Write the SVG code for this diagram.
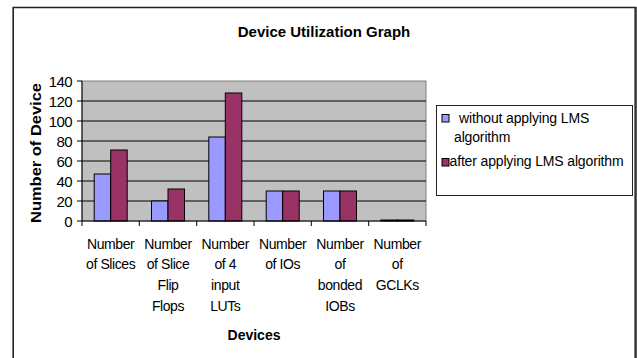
<svg xmlns="http://www.w3.org/2000/svg" width="637" height="358" viewBox="0 0 637 358">
  <style>
    text { font-family: "Liberation Sans", Arial, sans-serif; fill: #000; }
    .title { font-size: 15px; font-weight: bold; text-anchor: middle; }
    .axis-title { font-size: 14px; font-weight: bold; text-anchor: middle; }
    .tick { font-size: 15px; letter-spacing: -0.6px; text-anchor: end; }
    .cat { font-size: 14px; letter-spacing: -0.4px; text-anchor: middle; }
    .leg { font-size: 14px; letter-spacing: -0.15px; }
    .grid { stroke: #000; stroke-width: 1; }
    .axis { stroke: #000; stroke-width: 1; fill: none; }
    .s1 { fill: #9999FF; stroke: #000; stroke-width: 1; }
    .s2 { fill: #993366; stroke: #000; stroke-width: 1; }
  </style>

  <!-- chart frame -->
  <rect x="0" y="0" width="637" height="358" fill="#fff"/>
  <path d="M13.2 360 V7.5 H635.5 V360" fill="none" stroke="#222" stroke-width="1.6"/>
  <line x1="635.6" y1="7" x2="635.6" y2="360" stroke="#333" stroke-width="2.2"/>

  <text class="title" x="324" y="37">Device Utilization Graph</text>

  <!-- plot area: 0 at y=221, 1px per unit -->
  <g id="plot-area">
    <rect x="82" y="81" width="344" height="140" fill="#C0C0C0" stroke="#808080" stroke-width="1"/>
    <g class="grid">
      <line x1="82" y1="101" x2="426" y2="101"/>
      <line x1="82" y1="121" x2="426" y2="121"/>
      <line x1="82" y1="141" x2="426" y2="141"/>
      <line x1="82" y1="161" x2="426" y2="161"/>
      <line x1="82" y1="181" x2="426" y2="181"/>
      <line x1="82" y1="201" x2="426" y2="201"/>
    </g>
  </g>

  <!-- bars -->
  <g id="series-without">
    <rect class="s1" x="94.2" y="174" width="16.5" height="47"/>
    <rect class="s1" x="151.5" y="201" width="16.5" height="20"/>
    <rect class="s1" x="208.8" y="137" width="16.5" height="84"/>
    <rect class="s1" x="266.2" y="191" width="16.5" height="30"/>
    <rect class="s1" x="323.5" y="191" width="16.5" height="30"/>
    <rect class="s1" x="380.8" y="220" width="16.5" height="1"/>
  </g>
  <g id="series-after">
    <rect class="s2" x="110.7" y="150" width="16.5" height="71"/>
    <rect class="s2" x="168" y="189" width="16.5" height="32"/>
    <rect class="s2" x="225.3" y="93" width="16.5" height="128"/>
    <rect class="s2" x="282.7" y="191" width="16.5" height="30"/>
    <rect class="s2" x="340" y="191" width="16.5" height="30"/>
    <rect class="s2" x="397.3" y="220" width="16.5" height="1"/>
  </g>

  <!-- axes -->
  <g id="axes">
    <path class="axis" d="M82 81 V221 H426"/>
    <path class="axis" d="M77 81 H82 M77 101 H82 M77 121 H82 M77 141 H82 M77 161 H82 M77 181 H82 M77 201 H82 M77 221 H82"/>
    <path class="axis" d="M82 221 V226 M139.3 221 V226 M196.7 221 V226 M254 221 V226 M311.3 221 V226 M368.7 221 V226 M426 221 V226"/>
  </g>

  <!-- value axis labels -->
  <g id="y-labels">
    <text class="tick" x="72" y="86.5">140</text>
    <text class="tick" x="72" y="106.5">120</text>
    <text class="tick" x="72" y="126.5">100</text>
    <text class="tick" x="72" y="146.5">80</text>
    <text class="tick" x="72" y="166.5">60</text>
    <text class="tick" x="72" y="186.5">40</text>
    <text class="tick" x="72" y="206.5">20</text>
    <text class="tick" x="72" y="226.5">0</text>
  </g>
  <text class="axis-title" transform="translate(41 153) rotate(-90)" textLength="140" lengthAdjust="spacingAndGlyphs">Number of Device</text>

  <!-- category labels -->
  <g id="x-labels">
    <text class="cat" x="110.7" y="248.5">Number</text>
    <text class="cat" x="110.7" y="269.3">of Slices</text>

    <text class="cat" x="168" y="248.5">Number</text>
    <text class="cat" x="168" y="269.3">of Slice</text>
    <text class="cat" x="168" y="290">Flip</text>
    <text class="cat" x="168" y="310.7">Flops</text>

    <text class="cat" x="225.3" y="248.5">Number</text>
    <text class="cat" x="225.3" y="269.3">of 4</text>
    <text class="cat" x="225.3" y="290">input</text>
    <text class="cat" x="225.3" y="310.7">LUTs</text>

    <text class="cat" x="282.7" y="248.5">Number</text>
    <text class="cat" x="282.7" y="269.3">of IOs</text>

    <text class="cat" x="340" y="248.5">Number</text>
    <text class="cat" x="340" y="269.3">of</text>
    <text class="cat" x="340" y="290">bonded</text>
    <text class="cat" x="340" y="310.7">IOBs</text>

    <text class="cat" x="397.3" y="248.5">Number</text>
    <text class="cat" x="397.3" y="269.3">of</text>
    <text class="cat" x="397.3" y="290">GCLKs</text>
  </g>
  <text class="axis-title" x="254" y="340">Devices</text>

  <!-- legend -->
  <g id="legend">
    <rect x="436.5" y="105.5" width="196" height="90" fill="#fff" stroke="#222" stroke-width="1"/>
    <rect class="s1" x="442" y="114.5" width="7" height="7.5"/>
    <text class="leg" x="459" y="123">without applying LMS</text>
    <text class="leg" x="454" y="142">algorithm</text>
    <rect class="s2" x="442" y="158.5" width="7" height="7.5"/>
    <text class="leg" x="449.5" y="165.5">after applying LMS algorithm</text>
  </g>
</svg>
